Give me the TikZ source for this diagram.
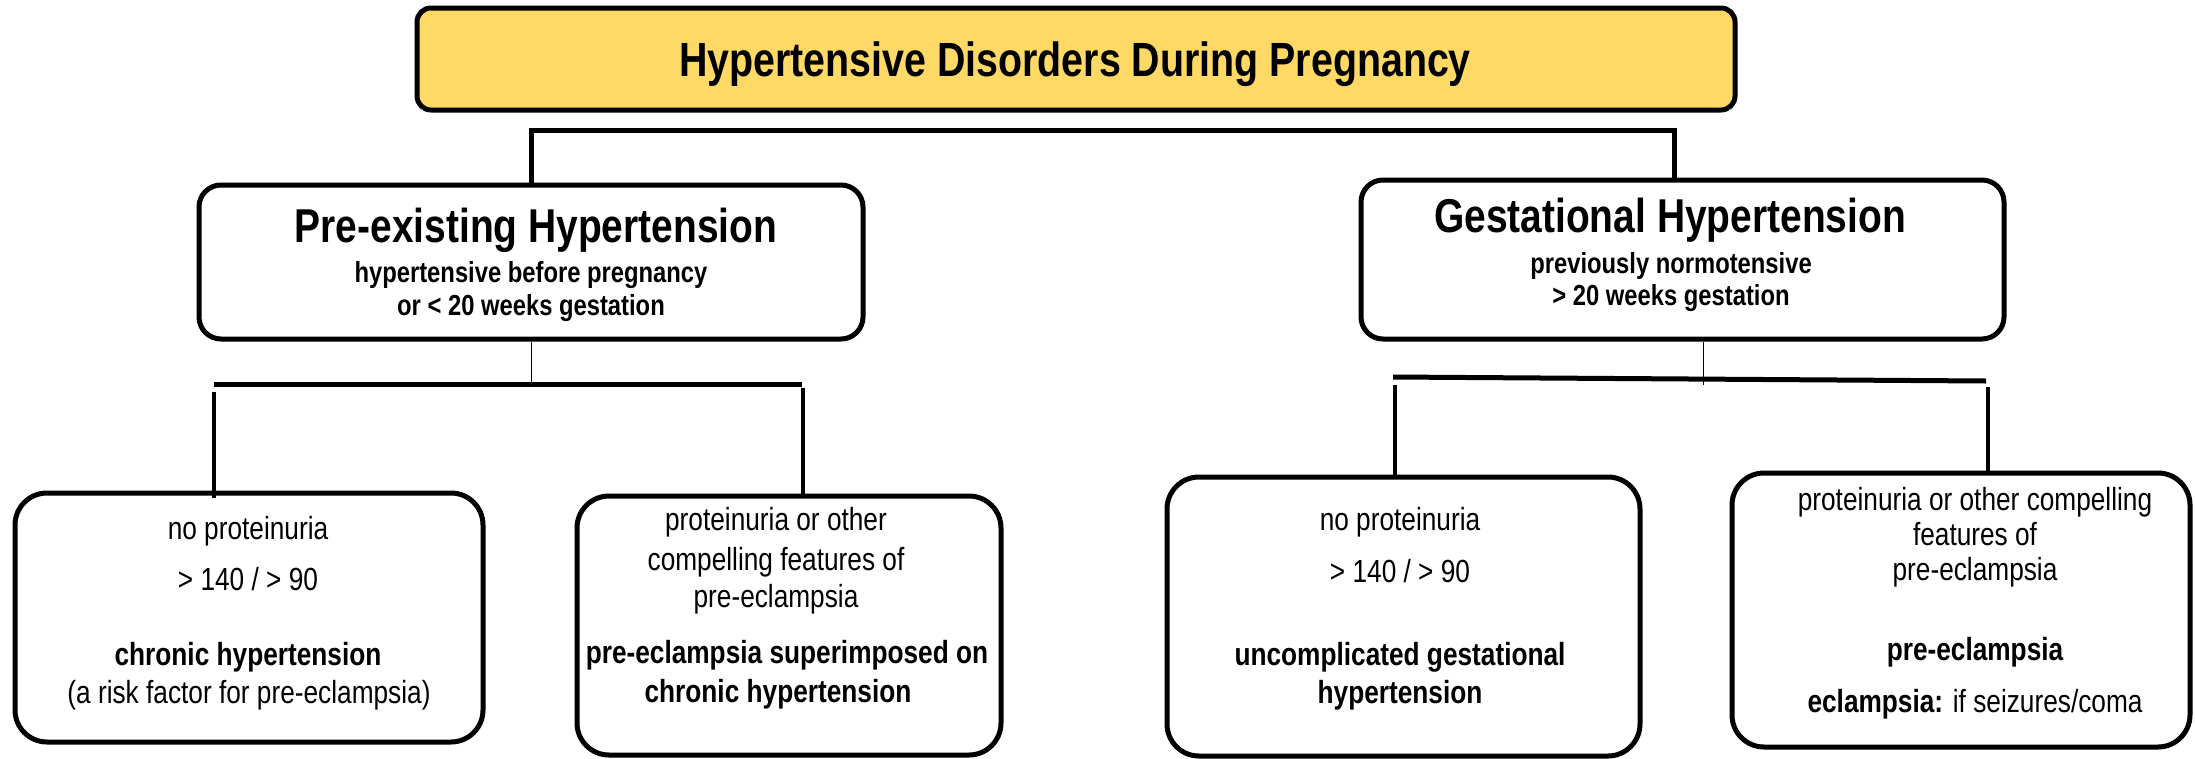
\documentclass[tikz,border=0pt]{standalone}
\usepackage{fontspec}
\setmainfont{Liberation Sans}[FakeStretch=0.82]
\definecolor{titlefill}{RGB}{255,217,102}
\newcommand\fTitle{\fontsize{48}{56}\selectfont\bfseries}
\newcommand\fHead{\fontsize{47.5}{56}\selectfont\bfseries}
\newcommand\fSub{\fontsize{29}{34}\selectfont\bfseries}
\newcommand\fBody{\fontsize{32}{38}\selectfont}
\newcommand\fBodyB{\fontsize{32}{38}\selectfont\bfseries}
\tikzset{
  titlebox/.style={draw=black, line width=5pt, rounded corners=14pt, fill=titlefill, inner sep=0pt},
  headbox/.style={draw=black, line width=5pt, rounded corners=22pt, fill=white, inner sep=0pt},
  leafbox/.style={draw=black, line width=5pt, rounded corners=32pt, fill=white, inner sep=0pt},
  bar/.style={line width=5pt},
  drop/.style={line width=4.5pt},
  hair/.style={line width=1pt},
  txt/.style={anchor=base, inner sep=0pt},
}
\begin{document}
\begin{tikzpicture}[x=1pt,y=-1pt]
\useasboundingbox (0,0) rectangle (2195,758);
\fill[white] (0,0) rectangle (2195,758);

% boxes
\node[titlebox, minimum width=1318pt, minimum height=102pt] (title) at (1076,59) {};
\node[headbox, minimum width=664pt, minimum height=154pt] (pre) at (531,262) {};
\node[headbox, minimum width=643pt, minimum height=159pt] (gest) at (1682.5,259.5) {};
\node[leafbox, minimum width=468pt, minimum height=249pt] (chron) at (249,617.5) {};
\node[leafbox, minimum width=424pt, minimum height=259pt] (supr) at (789,625.5) {};
\node[leafbox, minimum width=473pt, minimum height=279pt] (ugh) at (1403.5,616.5) {};
\node[leafbox, minimum width=458pt, minimum height=274pt] (pe) at (1961,610) {};

% connectors: top level
\coordinate (a1) at (531,130);
\coordinate (a2) at (1674,130);
\draw[bar] (pre.north) -- (a1) -- (a2) -- (a2 |- gest.north);

% connectors: pre-existing
\coordinate (b0) at (531,384);
\coordinate (bL) at (214,384);
\coordinate (bR) at (802,384);
\coordinate (cL) at (214,392);
\coordinate (cR) at (803,388);
\draw[hair] (pre.south) -- (b0);
\draw[bar] (bL) -- (bR);
\draw[drop] (cL) -- (214,498);
\draw[drop] (cR) -- (cR |- supr.north);

% connectors: gestational
\coordinate (g0) at (1703,385);
\coordinate (gL) at (1393,377);
\coordinate (gR) at (1986,381);
\coordinate (hL) at (1395,385);
\coordinate (hR) at (1988,387);
\draw[hair] (g0 |- gest.south) -- (g0);
\draw[bar] (gL) -- (gR);
\draw[drop] (hL) -- (hL |- ugh.north);
\draw[drop] (hR) -- (hR |- pe.north);

% texts
\node[txt, font=\fTitle] (tt) at (1075,76) {Hypertensive Disorders During Pregnancy};

\node[txt, font=\fHead] (p1) at (536,242) {Pre-existing Hypertension};
\node[txt, font=\fSub] (p2) at (531,282) {hypertensive before pregnancy};
\node[txt, font=\fSub] (p3) at (531,315) {or < 20 weeks gestation};

\node[txt, font=\fHead] (q1) at (1670,232) {Gestational Hypertension};
\node[txt, font=\fSub] (q2) at (1671,273) {previously normotensive};
\node[txt, font=\fSub] (q3) at (1671,305) {> 20 weeks gestation};

\node[txt, font=\fBody] (c1) at (248,539) {no proteinuria};
\node[txt, font=\fBody] (c2) at (248,590) {> 140 / > 90};
\node[txt, font=\fBodyB] (c3) at (248,665) {chronic hypertension};
\node[txt, font=\fBody] (c4) at (249,703) {(a risk factor for pre-eclampsia)};

\node[txt, font=\fBody] (s1) at (776,530) {proteinuria or other};
\node[txt, font=\fBody] (s2) at (776,570) {compelling features of};
\node[txt, font=\fBody] (s3) at (776,607) {pre-eclampsia};
\node[txt, font=\fBodyB] (s4) at (787,663) {pre-eclampsia superimposed on};
\node[txt, font=\fBodyB] (s5) at (778,702) {chronic hypertension};

\node[txt, font=\fBody] (u1) at (1400,530) {no proteinuria};
\node[txt, font=\fBody] (u2) at (1400,582) {> 140 / > 90};
\node[txt, font=\fBodyB] (u3) at (1400,665) {uncomplicated gestational};
\node[txt, font=\fBodyB] (u4) at (1400,703) {hypertension};

\node[txt, font=\fBody] (e1) at (1975,510) {proteinuria or other compelling};
\node[txt, font=\fBody] (e2) at (1975,545) {features of};
\node[txt, font=\fBody] (e3) at (1975,580) {pre-eclampsia};
\node[txt, font=\fBodyB] (e4) at (1975,660) {pre-eclampsia};
\node[txt, font=\fBody] (e5) at (1975,712) {\textbf{eclampsia:} if seizures/coma};
\end{tikzpicture}
\end{document}
